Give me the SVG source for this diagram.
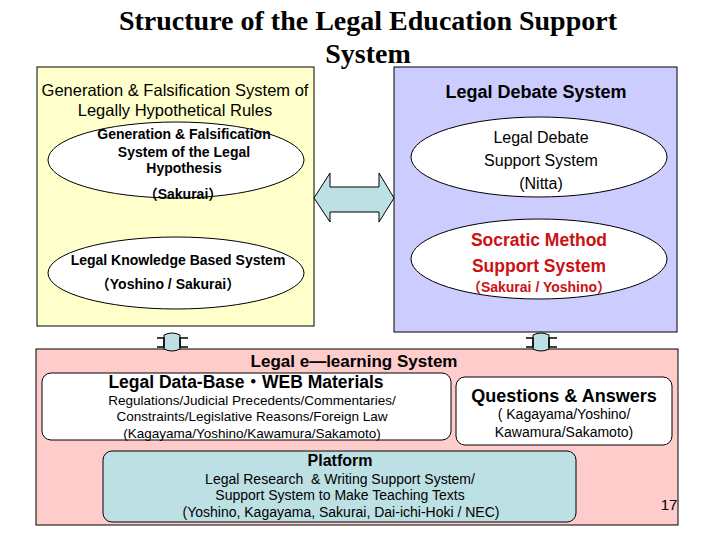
<svg xmlns="http://www.w3.org/2000/svg" width="720" height="540" viewBox="0 0 720 540">
<style>
.t{font-family:"Liberation Sans",Arial,sans-serif;text-anchor:middle;fill:#000}
.b{font-weight:bold}
.ttl{font-family:"Liberation Serif","Times New Roman",serif;font-weight:bold;font-size:28px;text-anchor:middle}
.ell{fill:#fff;stroke:#000;stroke-width:1}
.rb{fill:#fff;stroke:#000;stroke-width:1}
.conn{fill:#BDE0E4;stroke:#000;stroke-width:1}
.red{fill:#CC1111}
.cjk{font-family:"Liberation Sans","Noto Sans CJK JP",sans-serif}
</style>
<rect width="720" height="540" fill="#fff"/>
<text class="ttl" x="368" y="30">Structure of the Legal Education Support</text>
<text class="ttl" x="368" y="63">System</text>

<g id="left-system">
<rect x="37" y="67" width="277" height="259" fill="#FFFFCC" stroke="#000"/>
<text class="t" font-size="16.5" x="175" y="96">Generation &amp; Falsification System of</text>
<text class="t" font-size="16.5" x="175" y="116">Legally Hypothetical Rules</text>
</g>
<g id="gen-fals">
<ellipse class="ell" cx="176" cy="160" rx="128" ry="38"/>
<text class="t b" font-size="14" x="184" y="139">Generation &amp; Falsification</text>
<text class="t b" font-size="14" x="184" y="157">System of the Legal</text>
<text class="t b" font-size="14" x="184" y="173">Hypothesis</text>
<text class="t b cjk" font-size="14" x="183" y="199">（Sakurai）</text>
</g>
<g id="knowledge">
<ellipse class="ell" cx="176" cy="273" rx="128" ry="36"/>
<text class="t b" font-size="14" x="178" y="265">Legal Knowledge Based System</text>
<text class="t b cjk" font-size="14" x="168" y="289">（Yoshino / Sakurai）</text>
</g>

<g id="right-system">
<rect x="394" y="67" width="283" height="265" fill="#CCCCFF" stroke="#000"/>
<text class="t b" font-size="18" x="536" y="98">Legal Debate System</text>
</g>
<g id="debate-support">
<ellipse class="ell" cx="539" cy="157" rx="128" ry="40"/>
<text class="t" font-size="16" x="541" y="143">Legal Debate</text>
<text class="t" font-size="16" x="541" y="166">Support System</text>
<text class="t" font-size="16" x="541" y="189">(Nitta)</text>
</g>
<g id="socratic">
<ellipse class="ell" cx="539" cy="259" rx="128" ry="40"/>
<text class="t b red" font-size="17.5" x="539" y="246">Socratic Method</text>
<text class="t b red" font-size="17.5" x="539" y="272">Support System</text>
<text class="t b red cjk" font-size="14" x="539" y="292">（Sakurai / Yoshino）</text>
</g>

<g id="elearning">
<rect x="36" y="349" width="642" height="176" fill="#FFCCCC" stroke="#000"/>
<text class="t b" font-size="17" x="354" y="367">Legal e—learning System</text>
</g>
<g id="database">
<rect class="rb" x="42" y="373" width="409" height="67" rx="9"/>
<text class="t b cjk" font-size="17.5" x="246" y="388">Legal Data-Base・WEB Materials</text>
<text class="t" font-size="13.5" x="252" y="405">Regulations/Judicial Precedents/Commentaries/</text>
<text class="t" font-size="13.5" x="252" y="421">Constraints/Legislative Reasons/Foreign Law</text>
<text class="t" font-size="13.5" x="252" y="438">(Kagayama/Yoshino/Kawamura/Sakamoto)</text>
</g>
<g id="qa">
<rect class="rb" x="456" y="377" width="216" height="68" rx="9"/>
<text class="t b" font-size="18" x="564" y="402">Questions &amp; Answers</text>
<text class="t" font-size="14" x="564" y="419">( Kagayama/Yoshino/</text>
<text class="t" font-size="14" x="564" y="437">Kawamura/Sakamoto)</text>
</g>
<g id="platform">
<rect x="103" y="451" width="473" height="71" rx="9" fill="#BDE0E4" stroke="#000"/>
<text class="t b" font-size="16" x="340" y="466">Platform</text>
<text class="t" font-size="14" x="340" y="484" xml:space="preserve">Legal Research  &amp; Writing Support System/</text>
<text class="t" font-size="14" x="340" y="500">Support System to Make Teaching Texts</text>
<text class="t" font-size="14" x="341" y="517">(Yoshino, Kagayama, Sakurai, Dai-ichi-Hoki / NEC)</text>
</g>
<text class="t" font-size="15" x="669" y="510">17</text>

<g id="connectors">
<path class="conn" d="M314 198 L330 173 L330 187 L379 187 L379 173 L394 198 L379 222 L379 212 L330 212 L330 222 Z"/>
<g>
<path class="conn" d="M164 335 Q172 331 180 335 L180 349 Q172 353 164 349 Z"/>
<path d="M157 338 H164 V347 H157 M188 338 H180 V347 H188" fill="none" stroke="#000" stroke-width="1.5"/>
</g>
<g>
<path class="conn" d="M533 335 Q541 331 549 335 L549 349 Q541 353 533 349 Z"/>
<path d="M526 338 H533 V347 H526 M557 338 H549 V347 H557" fill="none" stroke="#000" stroke-width="1.5"/>
</g>
</g>
</svg>
